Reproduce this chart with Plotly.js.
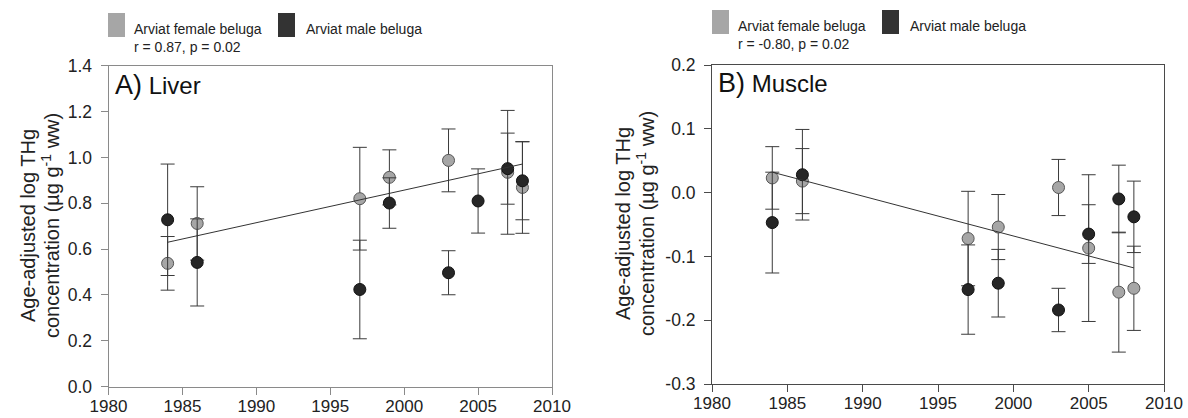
<!DOCTYPE html>
<html>
<head>
<meta charset="utf-8">
<script src="https://cdn.plot.ly/plotly-3.0.1.min.js"></script>
<style>html,body{margin:0;padding:0;background:#fff;}#chart{width:1188px;height:418px;}</style>
</head>
<body>
<div id="chart"></div>
<script>
// ---- data ----
var liverYearsF = [1984, 1986, 1997, 1999, 2003, 2007, 2008];
var liverF      = [0.538, 0.712, 0.820, 0.913, 0.987, 0.935, 0.869];
var liverFErr   = [0.117, 0.160, 0.224, 0.120, 0.137, 0.270, 0.200];
var liverYearsM = [1984, 1986, 1997, 1999, 2003, 2005, 2007, 2008];
var liverM      = [0.728, 0.542, 0.424, 0.801, 0.497, 0.810, 0.951, 0.898];
var liverMErr   = [0.243, 0.190, 0.215, 0.110, 0.096, 0.140, 0.155, 0.170];

var muscleYears = [1984, 1986, 1997, 1999, 2003, 2005, 2007, 2008];
var muscleF     = [0.023, 0.018, -0.072, -0.054, 0.008, -0.087, -0.156, -0.150];
var muscleFErr  = [0.049, 0.051, 0.074, 0.051, 0.044, 0.115, 0.094, 0.066];
var muscleM     = [-0.047, 0.028, -0.152, -0.142, -0.184, -0.065, -0.010, -0.038];
var muscleMErr  = [0.079, 0.071, 0.070, 0.053, 0.034, 0.046, 0.053, 0.056];

var trendYears  = [1984, 2008];
var liverTrend  = [0.630, 0.971];
var muscleTrend = [0.032, -0.118];

var xTicks      = [1980, 1985, 1990, 1995, 2000, 2005, 2010];
var liverTicks  = [0, 0.2, 0.4, 0.6, 0.8, 1.0, 1.2, 1.4];
var liverTickText  = ['0.0', '0.2', '0.4', '0.6', '0.8', '1.0', '1.2', '1.4'];
var muscleTicks = [-0.3, -0.2, -0.1, 0, 0.1, 0.2];
var muscleTickText = ['-0.3', '-0.2', '-0.1', '0.0', '0.1', '0.2'];

var seriesNames = ['Arviat female beluga', 'Arviat male beluga'];
var statsText = ['r = 0.87, p = 0.02', 'r = -0.80, p = 0.02'];
var panelLabels = [['A)', 'Liver'], ['B)', 'Muscle']];

// ---- styles ----
var FONT = 'Liberation Sans, Arial, Helvetica, sans-serif';
var W = 1188, H = 418;
var grayFill = '#a6a6a6', grayLine = '#555555';
var darkFill = '#262626', darkLine = '#111111';
var errColor = '#3a3a3a';

function px(x) { return x / W; }
function py(y) { return 1 - y / H; }

function pts(xs, ys, errs, fill, line, xa, ya) {
  return {
    type: 'scatter', mode: 'markers', x: xs, y: ys, xaxis: xa, yaxis: ya,
    marker: {size: 12, color: fill, line: {color: line, width: 1}},
    error_y: {type: 'data', array: errs, visible: true, color: errColor, thickness: 1, width: 7},
    showlegend: false, hoverinfo: 'x+y'
  };
}
function trend(xs, ys, xa, ya) {
  return {type: 'scatter', mode: 'lines', x: xs, y: ys, xaxis: xa, yaxis: ya,
    line: {color: '#333333', width: 1}, showlegend: false, hoverinfo: 'skip'};
}

var data = [
  pts(liverYearsF, liverF, liverFErr, grayFill, grayLine, 'x', 'y'),
  pts(liverYearsM, liverM, liverMErr, darkFill, darkLine, 'x', 'y'),
  trend(trendYears, liverTrend, 'x', 'y'),
  pts(muscleYears, muscleF, muscleFErr, grayFill, grayLine, 'x2', 'y2'),
  pts(muscleYears, muscleM, muscleMErr, darkFill, darkLine, 'x2', 'y2'),
  trend(trendYears, muscleTrend, 'x2', 'y2')
];

function xaxis(dom, anchor, col) {
  return {domain: dom, anchor: anchor, range: [1980, 2010], tickmode: 'array', tickvals: xTicks,
    ticktext: xTicks.map(String), ticks: 'outside', ticklen: 7, tickwidth: 1, tickcolor: col,
    ticklabelstandoff: -3,
    showline: true, linecolor: col, linewidth: 1, mirror: true, showgrid: false, zeroline: false,
    tickfont: {family: FONT, size: 17, color: '#222'}};
}
function yaxis(dom, anchor, range, vals, text, col) {
  return {domain: dom, anchor: anchor, range: range, tickmode: 'array', tickvals: vals, ticktext: text,
    ticks: 'outside', ticklen: 7, tickwidth: 1, tickcolor: col, ticklabelstandoff: 5,
    showline: true, linecolor: col, linewidth: 1, mirror: true, showgrid: false, zeroline: false,
    tickfont: {family: FONT, size: 17.5, color: '#222'}};
}

var colA = '#8a8a8a', colB = '#4a4a4a';

var annotations = [];
var shapes = [];
function legendBlock(x0, ytop, idx) {
  shapes.push({type: 'rect', xref: 'paper', yref: 'paper', x0: px(x0), x1: px(x0 + 17),
    y0: py(ytop + 24), y1: py(ytop), fillcolor: '#a6a6a6', line: {width: 0}});
  annotations.push({xref: 'paper', yref: 'paper', x: px(x0 + 24), y: py(ytop + 16), xanchor: 'left', yanchor: 'middle',
    text: seriesNames[0], showarrow: false, font: {family: FONT, size: 14, color: '#222'}});
  shapes.push({type: 'rect', xref: 'paper', yref: 'paper', x0: px(x0 + 170), x1: px(x0 + 187),
    y0: py(ytop + 24), y1: py(ytop), fillcolor: '#333333', line: {width: 0}});
  annotations.push({xref: 'paper', yref: 'paper', x: px(x0 + 196), y: py(ytop + 16), xanchor: 'left', yanchor: 'middle',
    text: seriesNames[1], showarrow: false, font: {family: FONT, size: 14, color: '#222'}});
  annotations.push({xref: 'paper', yref: 'paper', x: px(x0 + 24), y: py(ytop + 34), xanchor: 'left', yanchor: 'middle',
    text: statsText[idx], showarrow: false, font: {family: FONT, size: 14, color: '#222'}});
}
legendBlock(108, 13, 0);
legendBlock(712, 10, 1);

function panelLabel(x, y, idx) {
  annotations.push({xref: 'paper', yref: 'paper', x: px(x), y: py(y), xanchor: 'left', yanchor: 'middle',
    text: '<span style="font-size:27px">' + panelLabels[idx][0] + '</span> ' + panelLabels[idx][1],
    showarrow: false, font: {family: FONT, size: 24, color: '#111'}});
}
panelLabel(113, 85, 0);
panelLabel(716, 83, 1);

function yTitle(xc1, xc2, yc) {
  annotations.push({xref: 'paper', yref: 'paper', x: px(xc1), y: py(yc), xanchor: 'center', yanchor: 'middle',
    textangle: -90, text: 'Age-adjusted log THg', showarrow: false, font: {family: FONT, size: 20, color: '#222'}});
  annotations.push({xref: 'paper', yref: 'paper', x: px(xc2), y: py(yc), xanchor: 'center', yanchor: 'middle',
    textangle: -90, text: 'concentration (µg g<sup>-1</sup> ww)', showarrow: false, font: {family: FONT, size: 20, color: '#222'}});
}
yTitle(28, 50, 226);
yTitle(623, 645, 224);

var layout = {
  width: W, height: H, margin: {l: 0, r: 0, t: 0, b: 0},
  paper_bgcolor: '#fff', plot_bgcolor: '#fff', showlegend: false,
  font: {family: FONT, color: '#222'},
  xaxis: xaxis([px(108.5), px(552)], 'y', colA),
  yaxis: yaxis([py(386.7), py(65.7)], 'x', [0, 1.4], liverTicks, liverTickText, colA),
  xaxis2: xaxis([px(712), px(1164)], 'y2', colB),
  yaxis2: yaxis([py(384), py(65)], 'x2', [-0.3, 0.2], muscleTicks, muscleTickText, colB),
  annotations: annotations, shapes: shapes
};

Plotly.newPlot('chart', data, layout, {displayModeBar: false, staticPlot: true});
</script>
</body>
</html>
